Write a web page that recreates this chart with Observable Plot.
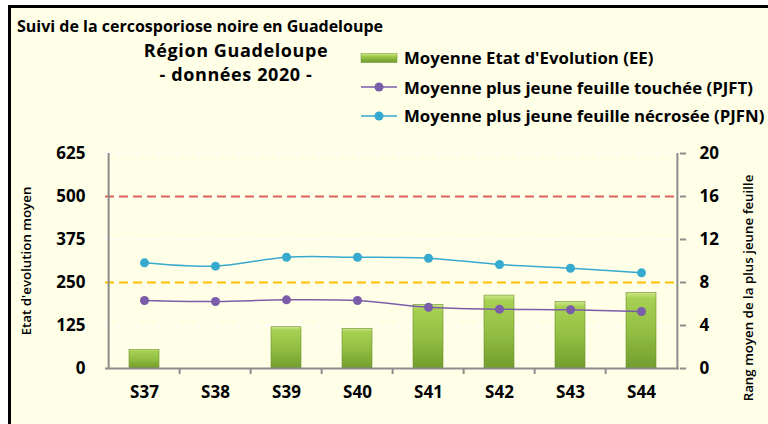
<!DOCTYPE html>
<html><head><meta charset="utf-8">
<script src="https://cdn.jsdelivr.net/npm/d3@7"></script>
<script src="https://cdn.jsdelivr.net/npm/@observablehq/plot@0.6"></script>
<style>
body{margin:0;background:#fff;width:768px;height:424px;overflow:hidden;position:relative;font-family:"Open Sans",sans-serif;color:#000;}
#frame{position:absolute;left:8px;top:5px;width:800px;height:450px;border-left:3px solid #000;border-top:3px solid #000;background:#FFFFE8;}
#chart{position:absolute;left:0;top:0;}
.t{position:absolute;font-weight:700;font-size:16.8px;line-height:16.8px;white-space:nowrap;}
.ttl{position:absolute;font-weight:700;white-space:nowrap;}
.ax{position:absolute;font-weight:600;font-size:13.3px;line-height:13.3px;white-space:nowrap;transform:translate(-50%,-50%) rotate(-90deg);}
.sw{position:absolute;}
</style></head><body>
<div id="frame"></div>
<div id="chart"></div>
<div class="ttl" id="t1" style="left:17px;top:18px;font-size:16px;line-height:16px;"></div>
<div class="ttl" id="t2" style="left:126px;width:220px;text-align:center;top:41px;font-size:18px;line-height:18px;letter-spacing:0.6px;"></div>
<div class="ttl" id="t3" style="left:126px;width:220px;text-align:center;top:65px;font-size:18px;line-height:18px;letter-spacing:0.6px;"></div>
<div id="legend"></div>
<div class="ax" id="axL" style="left:27px;top:261px;"></div>
<div class="ax" id="axR" style="left:749px;top:288px;"></div>
<script>
const weeks = ["S37","S38","S39","S40","S41","S42","S43","S44"];
const ee = [54, null, 120, 115, 185, 212, 193, 220];
const pjft = [6.33, 6.23, 6.39, 6.33, 5.7, 5.52, 5.46, 5.3];
const pjfn = [9.83, 9.52, 10.35, 10.35, 10.26, 9.67, 9.33, 8.9];
const leftTicks = [0, 125, 250, 375, 500, 625];
const rightMax = 20;
const seuilHaut = 500;
const seuilBas = 250;
const titles = ["Suivi de la cercosporiose noire en Guadeloupe", "Région Guadeloupe", "- données 2020 -"];
const legendLabels = ["Moyenne Etat d'Evolution (EE)", "Moyenne plus jeune feuille touchée (PJFT)", "Moyenne plus jeune feuille nécrosée (PJFN)"];
const axisTitles = ["Etat d'evolution moyen", "Rang moyen de la plus jeune feuille"];

const colEE = "url(#barGrad)", colPJFT = "#7B5CA8", colPJFN = "#36A9CF";
const k = leftTicks[leftTicks.length-1] / rightMax;
const step = (768 - 105 - 89) / weeks.length;

document.getElementById("t1").textContent = titles[0];
document.getElementById("t2").textContent = titles[1];
document.getElementById("t3").textContent = titles[2];
document.getElementById("axL").textContent = axisTitles[0];
document.getElementById("axR").textContent = axisTitles[1];

const lg = document.getElementById("legend");
const lgTops = [50, 80, 108];
const swY = [57.5, 87, 116];
legendLabels.forEach((lab, i) => {
  const d = document.createElement("div");
  d.className = "t"; d.style.left = "404px"; d.style.top = lgTops[i] + "px";
  d.textContent = lab; lg.appendChild(d);
  const cy = swY[i];
  const s = document.createElementNS("http://www.w3.org/2000/svg", "svg");
  s.setAttribute("width", 40); s.setAttribute("height", 14);
  s.setAttribute("class", "sw");
  s.style.left = "359px"; s.style.top = (cy - 7) + "px";
  if (i === 0) {
    s.innerHTML = `<defs><linearGradient id="lgG" x1="0" y1="0" x2="0" y2="1"><stop offset="0" stop-color="#cfe88a"/><stop offset="0.35" stop-color="#9cc84a"/><stop offset="1" stop-color="#6f9a2c"/></linearGradient></defs><rect x="2" y="2.5" width="36" height="9" fill="url(#lgG)" stroke="#6d8f2e" stroke-width="0.5"/>`;
  } else {
    const c = i === 1 ? colPJFT : colPJFN;
    s.innerHTML = `<line x1="2" x2="38" y1="7" y2="7" stroke="${c}" stroke-width="1.5"/><circle cx="20" cy="7" r="4.5" fill="${c}"/>`;
  }
  lg.appendChild(s);
});

const rows = weeks.map((w, i) => ({week: w, ee: ee[i], pjft: pjft[i] * k, pjfn: pjfn[i] * k}));
const axisGray = "#8c8c8c";

const plot = Plot.plot({
  width: 768, height: 424,
  marginLeft: 105, marginRight: 89, marginTop: 153, marginBottom: 56,
  style: {background: "transparent", overflow: "visible", fontFamily: "Open Sans", fontWeight: 700, fontSize: "17px", color: "#000"},
  x: {domain: weeks, paddingInner: 0.58, paddingOuter: 0.29, axis: null},
  y: {domain: [0, leftTicks[leftTicks.length-1]], axis: null},
  marks: [
    Plot.ruleY(leftTicks.slice(1), {stroke: "#ffffff", strokeWidth: 1.5, strokeDasharray: "6,4"}),
    Plot.ruleY([seuilHaut], {stroke: "#E0605A", strokeWidth: 2, strokeDasharray: "9,5"}),
    Plot.ruleY([seuilBas], {stroke: "#FFC000", strokeWidth: 2.2, strokeDasharray: "9,5"}),
    Plot.barY(rows.filter(d => d.ee != null), {x: "week", y: "ee", fill: colEE, stroke: "#6d8f2e", strokeWidth: 0.6}),
    Plot.line(rows, {x: "week", y: "pjft", stroke: colPJFT, strokeWidth: 1.5, curve: "catmull-rom"}),
    Plot.dot(rows, {x: "week", y: "pjft", fill: colPJFT, r: 4.5}),
    Plot.line(rows, {x: "week", y: "pjfn", stroke: colPJFN, strokeWidth: 1.5, curve: "catmull-rom"}),
    Plot.dot(rows, {x: "week", y: "pjfn", fill: colPJFN, r: 4.5}),
    Plot.ruleY([0], {stroke: axisGray, strokeWidth: 2}),
    Plot.ruleX([weeks[0]], {dx: -step/2, stroke: axisGray, strokeWidth: 2}),
    Plot.ruleX([weeks[weeks.length-1]], {dx: step/2, stroke: axisGray, strokeWidth: 2}),
    Plot.axisX(weeks.slice(1), {fill: "none", dx: -step/2, tickSize: 6, stroke: axisGray, strokeWidth: 2, label: null}),
    Plot.axisX({tickSize: 0, tickPadding: 17, label: null}),
    Plot.axisY(leftTicks, {anchor: "left", tickSize: 0, tickPadding: 20, label: null}),
    Plot.axisY(leftTicks, {anchor: "right", tickSize: 6, tickPadding: 14, stroke: axisGray, strokeWidth: 2, tickFormat: d => d / k, label: null})
  ]
});
const defs = document.createElementNS("http://www.w3.org/2000/svg", "defs");
defs.innerHTML = `<linearGradient id="barGrad" x1="0" y1="0" x2="0" y2="1"><stop offset="0" stop-color="#cfe88a"/><stop offset="0.08" stop-color="#a6d052"/><stop offset="0.5" stop-color="#93c043"/><stop offset="1" stop-color="#729d2e"/></linearGradient>`;
plot.prepend(defs);
document.getElementById("chart").appendChild(plot);
</script>
</body></html>
